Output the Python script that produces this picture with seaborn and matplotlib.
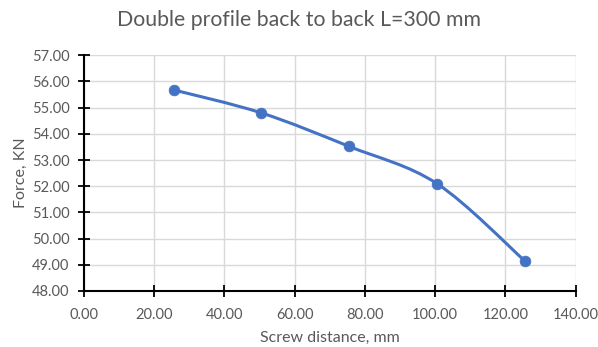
import numpy as np
import pandas as pd
import matplotlib
matplotlib.use("Agg")
import matplotlib.pyplot as plt
from matplotlib.path import Path
from matplotlib.patches import PathPatch
import seaborn as sns

# Screw spacing (mm) and measured force (kN)
screw_distance = [25.5, 50.5, 75.5, 100.5, 125.5]
force = [55.68, 54.80, 53.52, 52.10, 49.15]

x_ticks = [0, 20, 40, 60, 80, 100, 120, 140]
y_ticks = [48, 49, 50, 51, 52, 53, 54, 55, 56, 57]

title = "Double profile back to back L=300 mm"
x_label = "Screw distance, mm"
y_label = "Force, KN"

df = pd.DataFrame({"distance": screw_distance, "force": force})

sns.set_theme(style="whitegrid")
plt.rcParams["font.family"] = ["Lato", "DejaVu Sans"]

TEXT = "#595959"
BLUE = "#4472C4"

fig = plt.figure(figsize=(5.98, 3.47), dpi=100)
ax = fig.add_axes([0.1405, 0.1614, 0.8222, 0.6792])

# Smoothed connecting line: cubic Bezier segments through the data points
pts = df[["distance", "force"]].to_numpy()
ext = np.vstack([pts[0], pts, pts[-1]])
verts = [tuple(pts[0])]
codes = [Path.MOVETO]
for i in range(len(pts) - 1):
    p_prev, p0, p1, p_next = ext[i], ext[i + 1], ext[i + 2], ext[i + 3]
    c1 = p0 + (p1 - p_prev) / 6.0
    c2 = p1 - (p_next - p0) / 6.0
    verts += [tuple(c1), tuple(c2), tuple(p1)]
    codes += [Path.CURVE4] * 3
ax.add_patch(PathPatch(Path(verts, codes), facecolor="none", edgecolor=BLUE,
                       lw=2.2, capstyle="round", joinstyle="round", zorder=3))

sns.scatterplot(data=df, x="distance", y="force", ax=ax, color=BLUE, s=60,
                edgecolor=BLUE, linewidth=0.5, zorder=4, legend=False)

ax.set_xlim(0, 140)
ax.set_ylim(48, 57)
ax.set_xticks(x_ticks)
ax.set_yticks(y_ticks)
ax.set_xticklabels([f"{v:.2f}" for v in x_ticks])
ax.set_yticklabels([f"{v:.2f}" for v in y_ticks])

ax.grid(True, color="#d9d9d9", lw=1.0)
ax.set_axisbelow(True)
for side in ["top", "right"]:
    ax.spines[side].set_visible(False)
for side in ["left", "bottom"]:
    ax.spines[side].set_color("black")
    ax.spines[side].set_linewidth(1.5)
    ax.spines[side].set_zorder(5)

ax.tick_params(axis="both", which="major", direction="inout", length=8,
               width=1.3, color="black", labelsize=10.5, labelcolor=TEXT,
               left=True, bottom=True)
ax.tick_params(axis="x", pad=8)
ax.tick_params(axis="y", pad=6.5)

ax.set_xlabel(x_label, fontsize=11.5, color=TEXT, labelpad=7)
ax.set_ylabel(y_label, fontsize=11.5, color=TEXT, labelpad=3)
fig.suptitle(title, fontsize=15.3, color=TEXT, y=0.972)

fig.patch.set_facecolor("white")
fig.savefig("out.png", dpi=100, facecolor="white")
